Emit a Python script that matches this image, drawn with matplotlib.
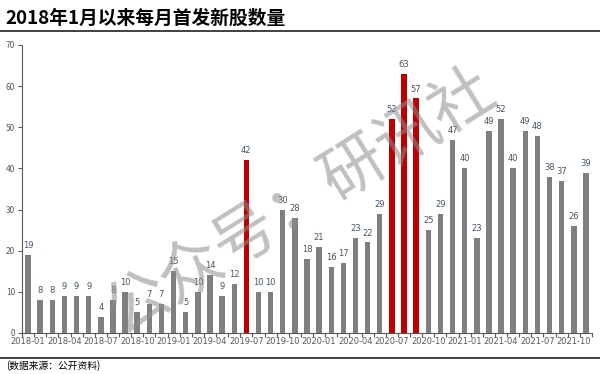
import matplotlib
matplotlib.use("Agg")
import matplotlib.pyplot as plt
from matplotlib.lines import Line2D
import numpy as np

plt.rcParams['font.family'] = ['Noto Sans CJK SC', 'DejaVu Sans']

months = ["2018-01","2018-02","2018-03","2018-04","2018-05","2018-06","2018-07","2018-08","2018-09","2018-10","2018-11","2018-12",
          "2019-01","2019-02","2019-03","2019-04","2019-05","2019-06","2019-07","2019-08","2019-09","2019-10","2019-11","2019-12",
          "2020-01","2020-02","2020-03","2020-04","2020-05","2020-06","2020-07","2020-08","2020-09","2020-10","2020-11","2020-12",
          "2021-01","2021-02","2021-03","2021-04","2021-05","2021-06","2021-07","2021-08","2021-09","2021-10","2021-11"]
ipo_counts = [19, 8, 8, 9, 9, 9, 4, 8, 10, 5, 7, 7,
              15, 5, 10, 14, 9, 12, 42, 10, 10, 30, 28, 18,
              21, 16, 17, 23, 22, 29, 52, 63, 57, 25, 29, 47,
              40, 23, 49, 52, 40, 49, 48, 38, 37, 26, 39]
highlight = ["2019-07", "2020-07", "2020-08", "2020-09"]

title = "2018年1月以来每月首发新股数量"
source = "(数据来源：公开资料)"
watermark = "公众号：研讯社"

fig = plt.figure(figsize=(6.0, 3.74), dpi=100)
ax = fig.add_axes([22/600, 1-333/374, 570/600, 288/374])

x = np.arange(len(months))
colors = ["#c00000" if m in highlight else "#7f7f7f" for m in months]
ax.bar(x, ipo_counts, width=0.45, color=colors, zorder=2)
for xi, v in zip(x, ipo_counts):
    ax.text(xi, v + 1.2, str(v), ha='center', va='bottom', fontsize=6,
            color="#44546a", family=['DejaVu Sans'])

ax.set_xlim(-0.5, len(months) - 0.5)
ax.set_ylim(0, 70)
ax.set_yticks(range(0, 71, 10))
ax.tick_params(axis='y', labelsize=6, colors="#595959", length=3, width=0.8, pad=2)
ax.set_xticks(x[::3])
ax.set_xticklabels(months[::3], fontsize=6, color="#595959", family=['DejaVu Sans'])
ax.tick_params(axis='x', length=0, pad=3)
ax.set_xticks(np.arange(-0.5, len(months), 1), minor=True)
ax.tick_params(axis='x', which='minor', length=3, width=0.8, color="#595959")
for s in ['top', 'right']:
    ax.spines[s].set_visible(False)
ax.spines['left'].set_color("#595959")
ax.spines['bottom'].set_color("#595959")
ax.spines['left'].set_linewidth(0.8)
ax.spines['bottom'].set_linewidth(0.8)

fig.text(5/600, 1-18/374, title, fontsize=13.5, fontweight='bold', ha='left', va='center', color="#000000")
fig.add_artist(Line2D([0, 1], [1-31/374, 1-31/374], color="#404040", lw=1.4, transform=fig.transFigure))
fig.add_artist(Line2D([0, 1], [1-358/374, 1-358/374], color="#404040", lw=1.4, transform=fig.transFigure))
fig.text(6/600, 1-366/374, source, fontsize=7, ha='left', va='center', color="#000000")

fig.text(300/600, 1-202/374, watermark, fontsize=46, rotation=32, ha='center', va='center',
         color="#8c8c8c", alpha=0.55, fontweight='light', zorder=5)

fig.savefig("out.png", dpi=100)
